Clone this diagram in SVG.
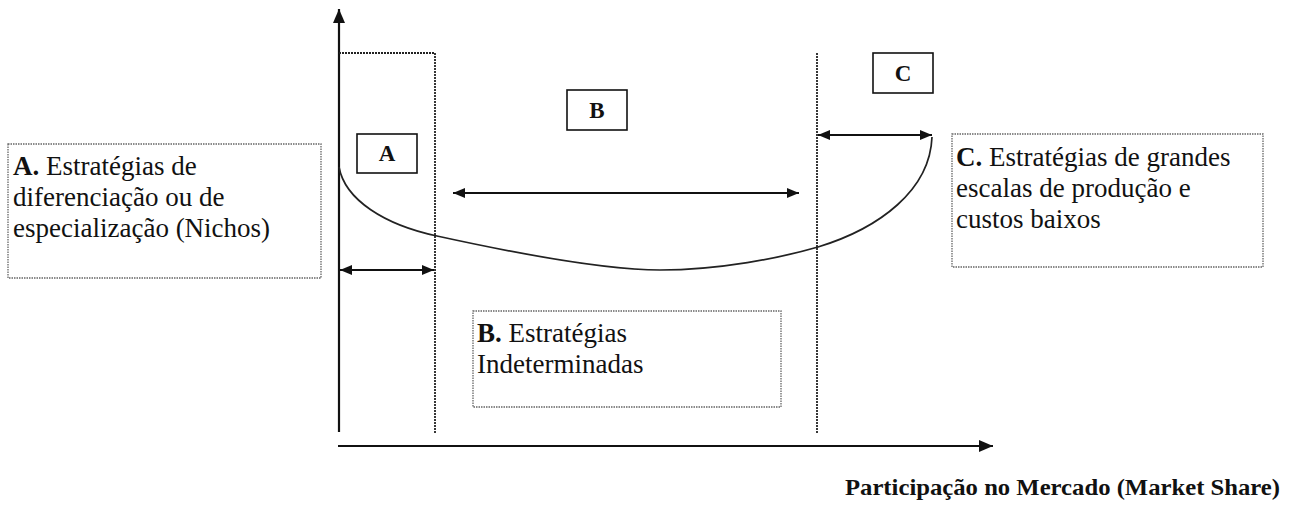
<svg xmlns="http://www.w3.org/2000/svg" width="1300" height="509" viewBox="0 0 1300 509">
<defs>
<marker id="ah" viewBox="0 0 12 10" refX="12" refY="5" markerWidth="12" markerHeight="10" markerUnits="userSpaceOnUse" orient="auto-start-reverse">
<path d="M0,0 L12,5 L0,10 Z" fill="#111"/>
</marker>
<marker id="axh" viewBox="0 0 14 12" refX="14" refY="6" markerWidth="14" markerHeight="12" markerUnits="userSpaceOnUse" orient="auto">
<path d="M0,0 L14,6 L0,12 Z" fill="#111"/>
</marker>
</defs>
<style>
.axis{stroke:#111;stroke-width:2.2;fill:none}
.div{stroke:#222;stroke-width:1.8;stroke-dasharray:2 1;fill:none}
.tbox{stroke:#666;stroke-width:1.3;stroke-dasharray:1.5 1;fill:none}
.lbox{stroke:#111;stroke-width:1.6;fill:#fff}
.dim{stroke:#111;stroke-width:1.8;fill:none}
.curve{stroke:#222;stroke-width:1.7;fill:none}
.t{font-family:"Liberation Serif","Times New Roman",serif;font-size:27px;fill:#111}
.b{font-weight:bold}
.lt{font-family:"Liberation Serif","Times New Roman",serif;font-size:23px;font-weight:bold;fill:#111;text-anchor:middle}
.xl{font-family:"Liberation Serif","Times New Roman",serif;font-size:23px;font-weight:bold;fill:#111}
</style>
<rect width="1300" height="509" fill="#fff"/>
<g id="axes">
<line class="axis" x1="339" y1="432" x2="339" y2="9" marker-end="url(#axh)"/>
<line class="axis" x1="338" y1="446" x2="993" y2="446" marker-end="url(#axh)"/>
</g>
<g id="dividers">
<polyline class="div" points="339,53 435,53 435,433"/>
<line class="div" x1="817" y1="53" x2="817" y2="433"/>
</g>
<g id="connectors">
<path class="curve" d="M339,167 C345,200 385,225 437,236 C510,252 600,270 660,270 C720,270 780,258 818,247 C880,228 930,190 932,137"/>
<line class="dim" x1="340" y1="270" x2="434" y2="270" marker-start="url(#ah)" marker-end="url(#ah)"/>
<line class="dim" x1="453" y1="193" x2="799" y2="193" marker-start="url(#ah)" marker-end="url(#ah)"/>
<line class="dim" x1="818" y1="135" x2="932" y2="135" marker-start="url(#ah)" marker-end="url(#ah)"/>
</g>
<g id="label-A">
<rect class="lbox" x="357" y="134" width="60" height="39"/>
<text class="lt" x="387" y="161">A</text>
</g>
<g id="label-B">
<rect class="lbox" x="567" y="90" width="60" height="40"/>
<text class="lt" x="597" y="118">B</text>
</g>
<g id="label-C">
<rect class="lbox" x="873" y="53" width="60" height="40"/>
<text class="lt" x="903" y="81">C</text>
</g>
<g id="text-A">
<rect class="tbox" x="8" y="144" width="313" height="134"/>
<text class="t" x="13" y="175"><tspan class="b">A.</tspan> Estratégias de</text>
<text class="t" x="13" y="206">diferenciação ou de</text>
<text class="t" x="13" y="237">especialização (Nichos)</text>
</g>
<g id="text-B">
<rect class="tbox" x="473" y="311" width="308" height="96"/>
<text class="t" x="477" y="342"><tspan class="b">B.</tspan> Estratégias</text>
<text class="t" x="477" y="373">Indeterminadas</text>
</g>
<g id="text-C">
<rect class="tbox" x="952" y="134" width="311" height="133"/>
<text class="t" x="956" y="166"><tspan class="b">C.</tspan> Estratégias de grandes</text>
<text class="t" x="956" y="197">escalas de produção e</text>
<text class="t" x="956" y="228">custos baixos</text>
</g>
<g id="x-label">
<text class="xl" x="845" y="495" textLength="435" lengthAdjust="spacingAndGlyphs">Participação no Mercado (Market Share)</text>
</g>
</svg>
